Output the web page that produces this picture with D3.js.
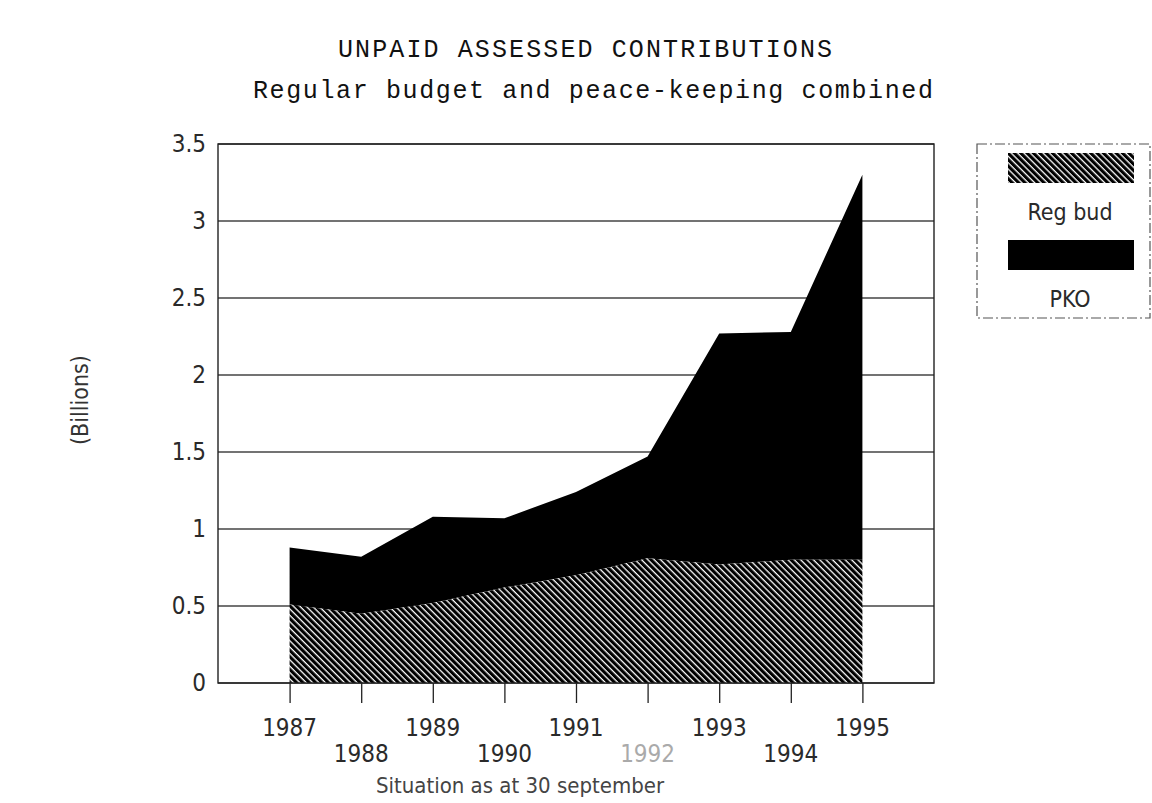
<!DOCTYPE html>
<html>
<head>
<meta charset="utf-8">
<script src="https://cdn.jsdelivr.net/npm/d3@7"></script>
<style>
  body { margin: 0; background: #fff; }
  svg { display: block; }
  .tick-label { font-family: "Liberation Sans Narrow", "DejaVu Sans Condensed", sans-serif; font-size: 24px; fill: #2a2a2a; }
  .mono { font-family: "Liberation Mono", "DejaVu Sans Mono", monospace; fill: #111; }
</style>
</head>
<body>
<div id="chart"></div>
<script>
// data
const years = [1987, 1988, 1989, 1990, 1991, 1992, 1993, 1994, 1995];
const regBud = [0.51, 0.45, 0.52, 0.62, 0.70, 0.81, 0.77, 0.80, 0.80];
const pko = [0.37, 0.37, 0.56, 0.45, 0.54, 0.66, 1.50, 1.48, 2.50];
const yTicks = [0, 0.5, 1, 1.5, 2, 2.5, 3, 3.5];
const yTickLabels = ["0", "0.5", "1", "1.5", "2", "2.5", "3", "3.5"];
const legendLabels = ["Reg bud", "PKO"];

const W = 1152, H = 803;
const plot = { left: 218, right: 934, top: 144, bottom: 683 };

const svg = d3.select("#chart").append("svg")
    .attr("width", W)
    .attr("height", H);

// diagonal hatch for the regular budget
const defs = svg.append("defs");
defs.append("pattern")
    .attr("id", "hatch")
    .attr("patternUnits", "userSpaceOnUse")
    .attr("width", 4.5)
    .attr("height", 4.5)
    .attr("patternTransform", "rotate(-45)")
    .call(p => {
        p.append("rect").attr("width", 4.5).attr("height", 4.5).attr("fill", "#fff");
        p.append("rect").attr("width", 3.2).attr("height", 4.5).attr("fill", "#000");
    });

const x = d3.scaleLinear()
    .domain([1986, 1996])
    .range([plot.left, plot.right]);

const y = d3.scaleLinear()
    .domain([0, 3.5])
    .range([plot.bottom, plot.top]);

const rows = years.map((yr, i) => ({ year: yr, reg: regBud[i], total: regBud[i] + pko[i] }));

// titles
svg.append("text")
    .attr("class", "mono")
    .attr("x", 585).attr("y", 57)
    .attr("text-anchor", "middle")
    .attr("font-size", 25)
    .attr("textLength", 494)
    .attr("lengthAdjust", "spacing")
    .text("UNPAID ASSESSED CONTRIBUTIONS");

svg.append("text")
    .attr("class", "mono")
    .attr("x", 593).attr("y", 98)
    .attr("text-anchor", "middle")
    .attr("font-size", 25)
    .attr("textLength", 680)
    .attr("lengthAdjust", "spacing")
    .text("Regular budget and peace-keeping combined");

// horizontal grid
svg.append("g")
    .selectAll("line")
    .data(yTicks)
    .join("line")
    .attr("x1", plot.left)
    .attr("x2", plot.right)
    .attr("y1", d => y(d))
    .attr("y2", d => y(d))
    .attr("stroke", "#444")
    .attr("stroke-width", 1.3);

// areas
const pkoArea = d3.area()
    .x(d => x(d.year))
    .y0(d => y(d.reg))
    .y1(d => y(d.total));

const regArea = d3.area()
    .x(d => x(d.year))
    .y0(y(0))
    .y1(d => y(d.reg));

svg.append("path")
    .datum(rows)
    .attr("d", pkoArea)
    .attr("fill", "#000");

svg.append("path")
    .datum(rows)
    .attr("d", regArea)
    .attr("fill", "url(#hatch)");

// plot frame
svg.append("rect")
    .attr("x", plot.left)
    .attr("y", plot.top)
    .attr("width", plot.right - plot.left)
    .attr("height", plot.bottom - plot.top)
    .attr("fill", "none")
    .attr("stroke", "#222")
    .attr("stroke-width", 1.4);

// y axis labels
const yAxis = d3.axisLeft(y)
    .tickValues(yTicks)
    .tickFormat((d, i) => yTickLabels[i])
    .tickSize(0)
    .tickPadding(12);

svg.append("g")
    .attr("transform", `translate(${plot.left},0)`)
    .call(yAxis)
    .call(g => g.select(".domain").remove())
    .selectAll("text")
    .attr("class", "tick-label")
    .attr("font-size", null)
    .attr("font-family", null);

// x axis ticks below the base line
const xAxis = d3.axisBottom(x)
    .tickValues(years)
    .tickSize(20)
    .tickFormat("");

svg.append("g")
    .attr("transform", `translate(0,${plot.bottom})`)
    .call(xAxis)
    .call(g => g.select(".domain").remove())
    .call(g => g.selectAll("line").attr("stroke", "#222").attr("stroke-width", 1.3));

// staggered year labels
svg.append("g")
    .selectAll("text")
    .data(years)
    .join("text")
    .attr("class", "tick-label")
    .attr("x", d => x(d))
    .attr("y", (d, i) => i % 2 === 0 ? 736 : 762)
    .attr("text-anchor", "middle")
    .style("fill", d => d === 1992 ? "#aaa" : null)
    .text(d => d);

svg.append("text")
    .attr("class", "tick-label")
    .attr("x", 520).attr("y", 793)
    .attr("text-anchor", "middle")
    .style("font-size", "22px")
    .style("fill", "#444")
    .text("Situation as at 30 september");

svg.append("text")
    .attr("transform", "translate(88,400) rotate(-90)")
    .attr("text-anchor", "middle")
    .attr("font-family", "'Liberation Sans Narrow', 'DejaVu Sans Condensed', sans-serif")
    .attr("font-size", 23)
    .attr("fill", "#333")
    .text("(Billions)");

// legend
const legend = svg.append("g");
legend.append("rect")
    .attr("x", 977).attr("y", 144)
    .attr("width", 173).attr("height", 174)
    .attr("fill", "none")
    .attr("stroke", "#555")
    .attr("stroke-width", 1.2)
    .attr("stroke-dasharray", "10,3,2,3");

const legendFills = ["url(#hatch)", "#000"];
legendLabels.forEach((lab, i) => {
    legend.append("rect")
        .attr("x", 1008).attr("y", 153 + i * 87)
        .attr("width", 126).attr("height", 30)
        .attr("fill", legendFills[i]);
    legend.append("text")
        .attr("class", "tick-label")
        .attr("x", 1070).attr("y", 220 + i * 87)
        .attr("text-anchor", "middle")
        .style("font-size", "23px")
        .text(lab);
});
</script>
</body>
</html>
